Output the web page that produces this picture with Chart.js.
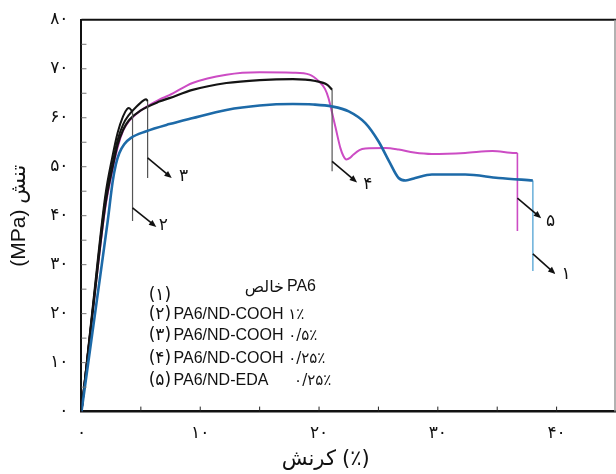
<!DOCTYPE html>
<html>
<head>
<meta charset="utf-8">
<script src="https://cdn.jsdelivr.net/npm/chart.js@4.4.1/dist/chart.umd.min.js"></script>
<style>
  html, body { margin: 0; padding: 0; background: #fff; }
</style>
</head>
<body>
<canvas id="stressChart" width="616" height="474"></canvas>
<script>
// strain (%) / stress (MPa)
var strainPA6 = [0, 1.29, 2.21, 2.63, 2.9, 3.19, 3.6, 4.17, 5.4, 7.4, 9.3, 12.2, 15, 17.8, 19.5, 21.1, 22.5, 23.9, 25, 25.9, 26.7, 27.3, 28.1, 29.5, 32.3, 35.1, 38.0];
var stressPA6 = [0, 22.6, 38.9, 47, 50.5, 52.8, 54.6, 55.9, 57.2, 58.7, 59.9, 61.6, 62.5, 62.8, 62.7, 62.3, 61.3, 58.9, 55.2, 51.1, 47.7, 47.2, 47.7, 48.4, 48.4, 47.7, 47.2];

var strainCooh1 = [0, 1, 2, 2.6, 3.05, 3.5, 3.85, 4.0, 4.3];
var stressCooh1 = [0, 22.5, 44, 52, 57, 60.3, 61.8, 62.0, 61.2];

var strainCooh05 = [0, 1, 2, 2.6, 3.05, 3.5, 4.0, 4.6, 5.2, 5.45, 5.57];
var stressCooh05 = [0, 22, 43, 50.5, 55.5, 58.6, 60.6, 62.2, 63.5, 63.8, 63.4];

var strainCooh025 = [0, 1, 2, 2.63, 3.05, 3.5, 4, 5, 6.55, 7.4, 9.35, 12.2, 15, 17.8, 19.7, 20.7, 21.1];
var stressCooh025 = [0, 21.5, 42, 50, 54.5, 57.5, 59.5, 61.5, 63.3, 64.0, 65.7, 67.1, 67.7, 67.9, 67.5, 66.7, 65.7];

var strainEda = [0, 1, 2, 2.63, 3.05, 3.5, 4, 5, 6.55, 7.4, 9.35, 12.2, 15, 17.8, 19.2, 20, 20.5, 20.8, 21.1, 21.4, 21.8, 22.05, 22.3, 22.6, 22.9, 23.4, 23.9, 25.6, 26.7, 28, 29.5, 32.3, 34.6, 36.5, 36.7];
var stressEda = [0, 21.5, 41.5, 49.5, 54, 57.3, 59.3, 61.5, 63.7, 64.6, 67.1, 68.8, 69.3, 69.2, 68.8, 67.4, 65.9, 64, 61, 57.9, 53.8, 52.2, 51.5, 51.8, 52.5, 53.4, 53.7, 53.8, 53.5, 52.9, 52.6, 52.8, 53.2, 52.8, 52.8];

// where each sample breaks: vertical line drops to this stress
var dropStress = [28.7, 38.9, 47.7, 49.1, 36.9];

var legendNums = ['(۱)', '(۲)', '(۳)', '(۴)', '(۵)'];
var legendNames = ['PA6', 'PA6/ND-COOH', 'PA6/ND-COOH', 'PA6/ND-COOH', 'PA6/ND-EDA'];
var legendLoads = ['خالص', '۱٪', '۰/۵٪', '۰/۲۵٪', '۰/۲۵٪'];
var curveNums = ['۱', '۲', '۳', '۴', '۵'];

var faDigits = '۰۱۲۳۴۵۶۷۸۹';
function toFa(v) {
  return String(v).replace(/\d/g, function(d) { return faDigits[d]; });
}

function pts(xs, ys) {
  return xs.map(function(x, i) { return { x: x, y: ys[i] }; });
}
function dropLine(xs, ys, bottom) {
  var n = xs.length - 1;
  return [{ x: xs[n], y: ys[n] }, { x: xs[n], y: bottom }];
}

var curves = [
  { x: strainPA6, y: stressPA6, color: '#1d6aa8', width: 2.6, dropColor: '#72b4dc' },
  { x: strainCooh1, y: stressCooh1, color: '#141414', width: 2, dropColor: '#555' },
  { x: strainCooh05, y: stressCooh05, color: '#141414', width: 2, dropColor: '#555' },
  { x: strainCooh025, y: stressCooh025, color: '#141414', width: 2.2, dropColor: '#555' },
  { x: strainEda, y: stressEda, color: '#cc4cc4', width: 2, dropColor: '#cc4cc4' }
];

var datasets = [];
curves.forEach(function(c, i) {
  datasets.push({
    data: pts(c.x, c.y),
    borderColor: c.color,
    borderWidth: c.width,
    pointRadius: 0,
    fill: false,
    cubicInterpolationMode: 'monotone'
  });
  datasets.push({
    data: dropLine(c.x, c.y, dropStress[i]),
    borderColor: c.dropColor,
    borderWidth: i === 0 || i === 4 ? 1.6 : 1.2,
    pointRadius: 0,
    fill: false
  });
});

var faFont = "'DejaVu Sans', 'Noto Sans'";
var latinFont = "'Liberation Sans', 'DejaVu Sans'";

// arrows pointing at each break line, in data units
var arrows = [
  { from: [38.0, 32.2], to: [39.9, 28.1], at: [40.8, 28.0] },
  { from: [4.3, 41.6], to: [6.3, 37.7], at: [6.9, 37.9] },
  { from: [5.57, 51.8], to: [7.6, 47.7], at: [8.6, 47.9] },
  { from: [21.1, 51.1], to: [23.2, 46.8], at: [24.1, 46.4] },
  { from: [36.7, 43.6], to: [38.7, 39.5], at: [39.5, 38.9] }
];

var decorations = {
  id: 'decorations',
  afterDraw: function(chart) {
    var ctx = chart.ctx;
    var xs = chart.scales.x, ys = chart.scales.y;
    var a = chart.chartArea;
    function px(v) { return xs.getPixelForValue(v); }
    function py(v) { return ys.getPixelForValue(v); }
    ctx.save();
    ctx.direction = 'ltr';

    // frame top / right
    ctx.strokeStyle = '#111';
    ctx.lineWidth = 2;
    ctx.beginPath();
    ctx.moveTo(a.left, a.top);
    ctx.lineTo(a.right, a.top);
    ctx.stroke();
    ctx.strokeStyle = '#999';
    ctx.lineWidth = 1.5;
    ctx.beginPath();
    ctx.moveTo(a.right - 1, a.top);
    ctx.lineTo(a.right - 1, a.bottom);
    ctx.stroke();

    // inner ticks
    ctx.strokeStyle = '#777';
    ctx.lineWidth = 1;
    for (var v = 5; v < 80; v += 5) {
      ctx.beginPath();
      ctx.moveTo(a.left, py(v));
      ctx.lineTo(a.left + 5, py(v));
      ctx.stroke();
    }
    ctx.strokeStyle = '#222';
    for (var u = 5; u <= 40; u += 5) {
      ctx.beginPath();
      ctx.moveTo(px(u), a.bottom);
      ctx.lineTo(px(u), a.bottom - 5);
      ctx.stroke();
    }

    // arrows + curve numbers
    ctx.strokeStyle = '#111';
    ctx.fillStyle = '#111';
    ctx.lineWidth = 1.6;
    ctx.font = '17px ' + faFont;
    ctx.textAlign = 'center';
    ctx.textBaseline = 'middle';
    arrows.forEach(function(ar, i) {
      var x0 = px(ar.from[0]), y0 = py(ar.from[1]);
      var x1 = px(ar.to[0]), y1 = py(ar.to[1]);
      var ang = Math.atan2(y1 - y0, x1 - x0);
      ctx.beginPath();
      ctx.moveTo(x0, y0);
      ctx.lineTo(x1 - 4 * Math.cos(ang), y1 - 4 * Math.sin(ang));
      ctx.stroke();
      ctx.beginPath();
      ctx.moveTo(x1, y1);
      ctx.lineTo(x1 - 8 * Math.cos(ang - 0.4), y1 - 8 * Math.sin(ang - 0.4));
      ctx.lineTo(x1 - 8 * Math.cos(ang + 0.4), y1 - 8 * Math.sin(ang + 0.4));
      ctx.closePath();
      ctx.fill();
      ctx.fillText(curveNums[i], px(ar.at[0]), py(ar.at[1]));
    });

    // legend block
    var rowY = [23.6, 19.8, 15.5, 10.8, 6.3];
    ctx.fillStyle = '#111';
    for (var r = 0; r < 5; r++) {
      ctx.font = '17px ' + faFont;
      ctx.textAlign = 'center';
      ctx.fillText(legendNums[r], px(6.6), py(rowY[r]));
      if (r === 0) {
        ctx.font = '16px ' + latinFont;
        ctx.textAlign = 'left';
        ctx.fillText(legendNames[0], px(17.3), py(25.5));
        ctx.font = '16px ' + faFont;
        ctx.textAlign = 'right';
        ctx.fillText(legendLoads[0], px(17.05), py(25.2));
      } else {
        ctx.font = '16px ' + latinFont;
        ctx.textAlign = 'left';
        ctx.fillText(legendNames[r], px(7.75), py(rowY[r]));
        ctx.font = '15px ' + faFont;
        ctx.fillText(legendLoads[r], px(r === 4 ? 17.9 : 17.4), py(rowY[r]));
      }
    }

    // x-axis title (word then bracket, left to right)
    ctx.font = '21px ' + faFont;
    ctx.textBaseline = 'middle';
    ctx.fillStyle = '#111';
    ctx.textAlign = 'right';
    ctx.fillText('کرنش', px(20.75) + 8, chart.height - 14);
    ctx.textAlign = 'left';
    ctx.fillText('(٪)', px(20.75) + 14, chart.height - 14);

    ctx.restore();
  }
};

var ctx = document.getElementById('stressChart').getContext('2d');
var chart = new Chart(ctx, {
  type: 'line',
  data: { datasets: datasets },
  options: {
    responsive: false,
    animation: false,
    layout: { padding: { left: 7, top: 0, right: 0, bottom: 18 } },
    plugins: {
      legend: { display: false },
      tooltip: { enabled: false }
    },
    scales: {
      x: {
        type: 'linear',
        min: 0,
        max: 45,
        afterBuildTicks: function(axis) {
          axis.ticks = axis.ticks.filter(function(t) { return t.value % 10 === 0; });
        },
        ticks: {
          stepSize: 10,
          padding: 12,
          color: '#111',
          font: { family: faFont, size: 17 },
          maxRotation: 0,
          callback: function(v) { return toFa(v); }
        },
        grid: { display: false, drawTicks: false },
        border: { display: true, color: '#111', width: 2.5 }
      },
      y: {
        min: 0,
        max: 80,
        ticks: {
          stepSize: 10,
          padding: 13,
          color: '#111',
          font: { family: faFont, size: 17, lineHeight: 0.8 },
          callback: function(v) { return toFa(v); }
        },
        grid: { display: false, drawTicks: false },
        border: { display: true, color: '#111', width: 2 },
        title: {
          display: true,
          text: '(MPa) تنش',
          color: '#111',
          font: { family: latinFont, size: 21 },
          padding: { top: 0, bottom: 5 }
        }
      }
    }
  },
  plugins: [decorations]
});
</script>
</body>
</html>
